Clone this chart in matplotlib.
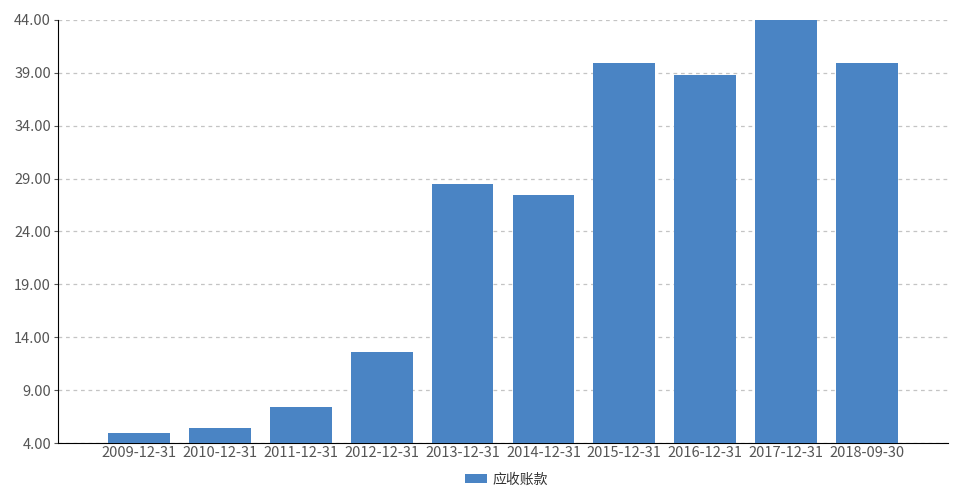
import matplotlib
matplotlib.use('Agg')
from matplotlib import pyplot as plt
import numpy as np

plt.rcParams['font.family'] = ['Noto Sans CJK SC', 'DejaVu Sans']

dates = ['2009-12-31', '2010-12-31', '2011-12-31', '2012-12-31', '2013-12-31',
         '2014-12-31', '2015-12-31', '2016-12-31', '2017-12-31', '2018-09-30']
receivables = [4.95, 5.42, 7.40, 12.6, 28.5, 27.45, 39.93, 38.8, 44.0, 39.93]
yticks = [4, 9, 14, 19, 24, 29, 34, 39, 44]

fig = plt.figure(figsize=(9.59, 4.94), dpi=100)
ax = fig.add_axes([58 / 959, 51 / 494, 890 / 959, 423 / 494])

x = np.arange(len(dates))
ax.bar(x, receivables, width=0.765, bottom=0, color='#4a84c4', label='应收账款', zorder=3)

ax.set_ylim(4, 44)
ax.set_xlim(-1, 10)
ax.set_yticks(yticks)
ax.set_yticklabels([f'{v:.2f}' for v in yticks])
ax.set_xticks(x)
ax.set_xticklabels(dates)
ax.tick_params(axis='y', length=3, colors='#555555', labelsize=10.5, pad=2)
ax.tick_params(axis='x', length=0, colors='#555555', labelsize=10.5, pad=2)
for lbl in ax.get_xticklabels() + ax.get_yticklabels():
    lbl.set_color('#555555')

ax.grid(axis='y', linestyle=(0, (3, 3)), color='#c4c4c4', linewidth=0.9, zorder=0)
for side in ['top', 'right']:
    ax.spines[side].set_visible(False)
ax.spines['left'].set_color('black')
ax.spines['bottom'].set_color('black')

fig.legend(loc='lower center', bbox_to_anchor=(0.528, -0.01), frameon=False,
           handlelength=1.6, handleheight=0.7, handletextpad=0.4,
           fontsize=10, labelcolor='#333333')

fig.savefig('out.png', dpi=100)
